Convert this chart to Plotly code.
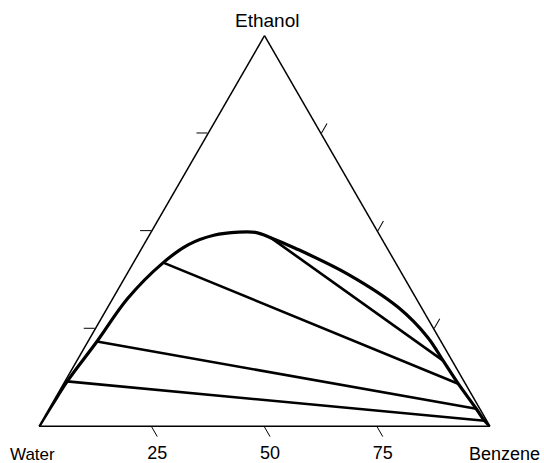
import plotly.graph_objects as go

# Binodal (solubility) curve, mass % : Ethanol, Water, Benzene
curve_ethanol = [0, 5.6, 11.5, 21.7, 32.7, 41.9, 46.5, 48.9, 49.7, 49.6, 48.3, 45.6, 38.9, 30.4, 22.7, 16.8, 10.9, 4.5, 1.4, 0]
curve_water   = [100, 94.2, 88.0, 76.3, 64.0, 51.5, 43.6, 36.8, 30.9, 27.0, 24.5, 20.4, 12.0, 5.1, 2.4, 2.0, 1.6, 0.8, 0.5, 0]
curve_benzene = [0, 0.2, 0.5, 2.0, 3.3, 6.6, 9.9, 14.3, 19.4, 23.4, 27.2, 34.0, 49.1, 64.5, 74.9, 81.2, 87.5, 94.7, 98.1, 100]

# Tie lines: water-rich end and benzene-rich end
tie_w_ethanol = [11.5, 21.7, 41.9, 48.3]
tie_w_water   = [88.0, 76.3, 51.5, 24.5]
tie_w_benzene = [0.5, 2.0, 6.6, 27.2]
tie_b_ethanol = [1.4, 4.5, 10.9, 16.8]
tie_b_water   = [0.5, 0.8, 1.6, 2.0]
tie_b_benzene = [98.1, 94.7, 87.5, 81.2]

tick_vals = [25, 50, 75]
bottom_tick_text = ["75", "50", "25"]  # water axis, labelled as benzene %

ta, tb, tc = [], [], []
for i in range(len(tie_w_ethanol)):
    ta += [tie_w_ethanol[i], tie_b_ethanol[i], None]
    tb += [tie_w_water[i], tie_b_water[i], None]
    tc += [tie_w_benzene[i], tie_b_benzene[i], None]

fig = go.Figure()
fig.add_trace(go.Scatterternary(
    a=ta, b=tb, c=tc, mode="lines", connectgaps=False,
    line=dict(color="black", width=2.6), hoverinfo="skip", showlegend=False))
fig.add_trace(go.Scatterternary(
    a=curve_ethanol, b=curve_water, c=curve_benzene, mode="lines",
    line=dict(color="black", width=3.2, shape="spline", smoothing=1.0),
    hoverinfo="skip", showlegend=False))

family = "Liberation Sans, Arial, sans-serif"
font = dict(family=family, size=18, color="black")
axis_common = dict(
    showgrid=False, linecolor="black", linewidth=1.5,
    ticks="outside", ticklen=11, tickwidth=1.2, tickcolor="black",
    min=0, title=dict(text=""),
)
fig.update_layout(
    width=544, height=463,
    margin=dict(l=39, r=54, t=35, b=36),
    paper_bgcolor="white",
    font=font,
    ternary=dict(
        sum=100,
        bgcolor="white",
        aaxis=dict(tickvals=tick_vals, showticklabels=False, **axis_common),
        baxis=dict(tickvals=tick_vals, ticktext=bottom_tick_text,
                   tickfont=font, **axis_common),
        caxis=dict(tickvals=tick_vals, showticklabels=False, **axis_common),
    ),
    annotations=[
        dict(text="Ethanol", x=0.506, y=1.038, xref="paper", yref="paper",
             showarrow=False, xanchor="center", yanchor="middle",
             font=dict(family=family, size=19, color="black")),
        dict(text="Water", x=-0.0155, y=-0.069, xref="paper", yref="paper",
             showarrow=False, xanchor="center", yanchor="middle",
             font=dict(family=family, size=17, color="black")),
        dict(text="Benzene", x=1.032, y=-0.069, xref="paper", yref="paper",
             showarrow=False, xanchor="center", yanchor="middle",
             font=dict(family=family, size=18, color="black")),
    ],
)
fig.write_html("out.html")
